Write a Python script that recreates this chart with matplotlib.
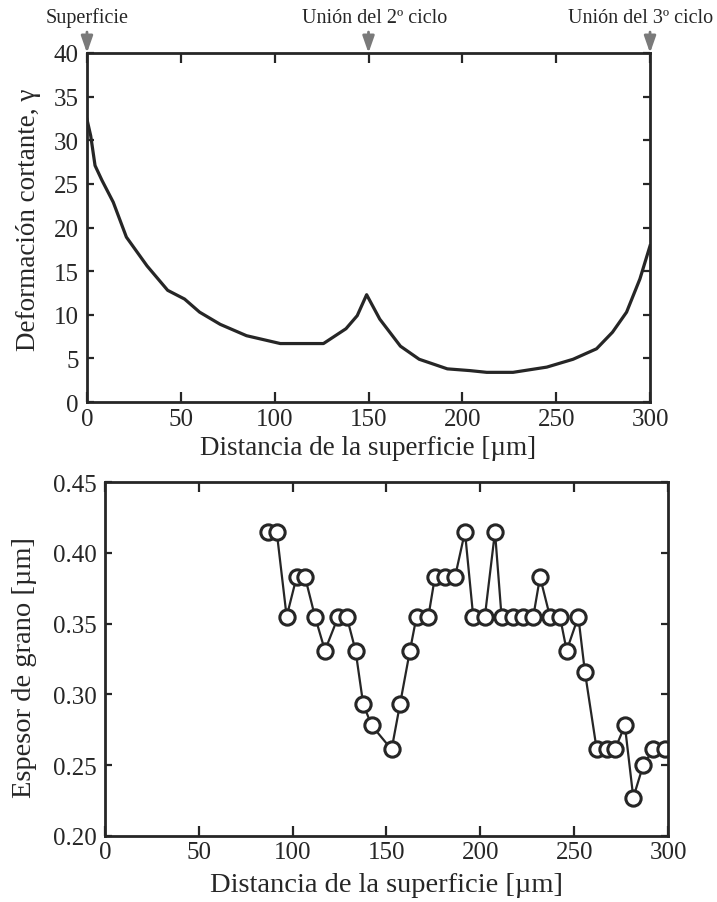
import matplotlib
matplotlib.use('Agg')
import matplotlib.pyplot as plt

plt.rcParams['font.family'] = ['Liberation Serif', 'DejaVu Serif']

# deformacion cortante vs distancia (curva superior)
dist_gamma = [0, 2, 4.3, 8, 14, 21, 32, 43, 52, 60, 71, 85, 103, 126,
              138, 144, 149, 156, 167, 177, 192, 204, 213, 227, 245,
              259, 271.5, 280, 287.5, 294.6, 300]
gamma = [32.4, 30.5, 27.1, 25.4, 22.9, 18.9, 15.6, 12.8, 11.8, 10.3, 8.9,
         7.6, 6.7, 6.7, 8.4, 9.9, 12.3, 9.5, 6.4, 4.9, 3.8, 3.6, 3.4, 3.4,
         4.0, 4.9, 6.1, 8.0, 10.3, 14.1, 17.9]

# espesor de grano vs distancia (curva inferior)
dist_grano = [87.0, 91.5, 96.8, 102.1, 106.6, 111.9, 117.2, 124.3, 128.8,
              133.5, 137.6, 142.1, 152.7, 157.2, 162.5, 166.0, 172.3, 175.8,
              181.1, 186.5, 191.8, 196.2, 202.4, 207.8, 211.3, 217.5, 222.9,
              228.2, 231.8, 237.1, 242.4, 246.0, 252.2, 255.7, 262.0, 267.3,
              271.7, 277.0, 281.5, 286.8, 292.1, 298.3]
grano = [0.415, 0.415, 0.355, 0.383, 0.383, 0.355, 0.331, 0.355, 0.355,
         0.331, 0.293, 0.278, 0.261, 0.293, 0.331, 0.355, 0.355, 0.383,
         0.383, 0.383, 0.415, 0.355, 0.355, 0.415, 0.355, 0.355, 0.355,
         0.355, 0.383, 0.355, 0.355, 0.331, 0.355, 0.316, 0.261, 0.261,
         0.261, 0.278, 0.227, 0.250, 0.261, 0.261]

marks_x = [0, 150, 300]
marks_txt = ['Superficie', 'Unión del 2º ciclo', 'Unión del 3º ciclo']
marks_txt_x = [0, 153, 295]

ink = '#262626'

fig = plt.figure(figsize=(7.17, 9.03), dpi=100)
ax1 = fig.add_axes([0.1213, 0.5537, 0.7853, 0.3865])
ax2 = fig.add_axes([0.1464, 0.0734, 0.7853, 0.3914])

for ax in (ax1, ax2):
    for s in ax.spines.values():
        s.set_linewidth(2.0)
        s.set_color(ink)
    ax.tick_params(direction='in', top=True, right=True, width=1.6,
                   labelsize=18, colors=ink, pad=4)
    ax.tick_params(axis='x', length=7)
    ax.tick_params(axis='y', length=5, pad=6)

ax1.plot(dist_gamma, gamma, color=ink, lw=2.3)
ax1.set_xlim(0, 300)
ax1.set_ylim(0, 40)
ax1.set_xticks(range(0, 301, 50))
ax1.set_yticks(range(0, 41, 5))
ax1.set_xlabel('Distancia de la superficie [µm]', fontsize=19.5, color=ink, labelpad=4)
ax1.set_ylabel('Deformación cortante, γ', fontsize=19.5, color=ink)
ax1.yaxis.set_label_coords(-0.082, 0.525)

for mx, txt, tx in zip(marks_x, marks_txt, marks_txt_x):
    ax1.annotate('', xy=(mx, 40), xytext=(mx, 42.4), annotation_clip=False,
                 arrowprops=dict(arrowstyle='-|>,head_length=1.0,head_width=0.35',
                                 color='#7a7a7a', lw=2.0, shrinkA=0, shrinkB=0))
    ax1.text(tx, 44.1, txt, ha='center', va='center', fontsize=14.5,
             color=ink, clip_on=False)

ax2.plot(dist_grano, grano, color=ink, lw=1.6, marker='o', ms=11,
         mfc='white', mec=ink, mew=2.2)
ax2.set_xlim(0, 300)
ax2.set_ylim(0.20, 0.45)
ax2.set_xticks(range(0, 301, 50))
ax2.set_yticks([0.20, 0.25, 0.30, 0.35, 0.40, 0.45])
ax2.set_yticklabels(['0.20', '0.25', '0.30', '0.35', '0.40', '0.45'])
ax2.set_xlabel('Distancia de la superficie [µm]', fontsize=20.5, color=ink, labelpad=6)
ax2.set_ylabel('Espesor de grano [µm]', fontsize=20.5, color=ink)
ax2.yaxis.set_label_coords(-0.121, 0.48)

fig.savefig('out.png', dpi=100)
plt.close(fig)
